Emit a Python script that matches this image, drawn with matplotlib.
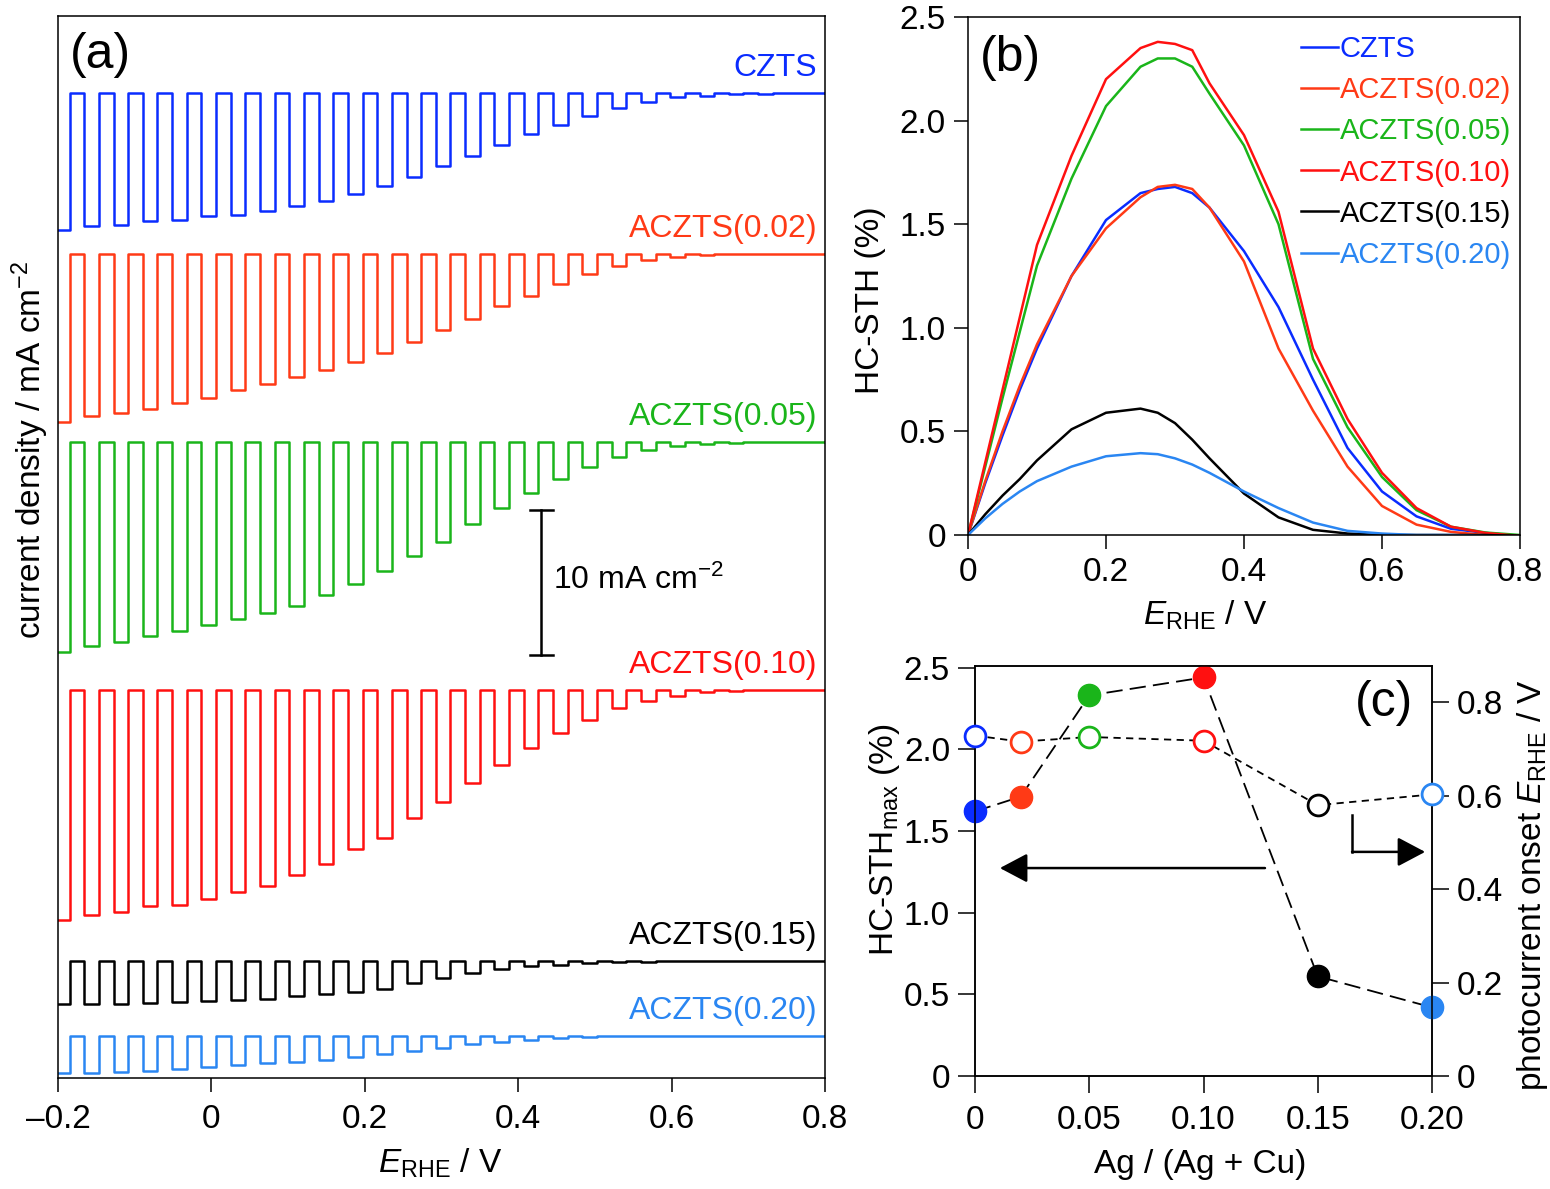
import matplotlib
matplotlib.use("Agg")
import matplotlib.pyplot as plt

plt.rcParams["font.family"] = ["Liberation Sans", "DejaVu Sans"]
plt.rcParams["mathtext.fontset"] = "custom"
plt.rcParams["mathtext.rm"] = "Liberation Sans"
plt.rcParams["mathtext.it"] = "Liberation Sans:italic"
plt.rcParams["font.size"] = 24
plt.rcParams["axes.linewidth"] = 1.1

samples = ["CZTS", "ACZTS(0.02)", "ACZTS(0.05)", "ACZTS(0.10)", "ACZTS(0.15)", "ACZTS(0.20)"]
colors = ["#0a2cff", "#ff3a16", "#1ab51a", "#ff1010", "#000000", "#2a86f2"]

# (a) chopped LSV: photocurrent (mA cm-2) for each light pulse, pulses start at chop_start
chop_start = -0.204
chop_period = 0.0382
trace_offset = [-5.31, -16.41, -29.38, -46.48, -65.17, -70.31]
pulse_czts = [9.43, 9.2, 9.08, 8.85, 8.74, 8.5, 8.4, 8.16, 7.82, 7.47, 7.0, 6.44, 5.79, 5.06,
              4.37, 3.56, 2.85, 2.18, 1.59, 1.03, 0.62, 0.28, 0.18, 0.09, 0.05, 0.02, 0.0]
pulse_002 = [11.56, 11.15, 11.0, 10.7, 10.3, 9.9, 9.4, 9.0, 8.5, 8.0, 7.45, 6.8, 6.05, 5.25,
             4.5, 3.6, 2.87, 2.07, 1.38, 0.83, 0.41, 0.2, 0.1, 0.03, 0.01, 0.0, 0.0]
pulse_005 = [14.5, 14.1, 13.8, 13.4, 13.0, 12.6, 12.2, 11.8, 11.3, 10.55, 9.8, 8.9, 7.86, 6.87,
             5.68, 4.53, 3.49, 2.57, 1.7, 1.01, 0.55, 0.25, 0.11, 0.05, 0.02, 0.0, 0.0]
pulse_010 = [15.86, 15.5, 15.3, 14.9, 14.8, 14.4, 13.95, 13.5, 12.76, 12.0, 11.0, 10.2, 8.85, 7.7,
             6.4, 5.2, 3.98, 2.99, 2.07, 1.22, 0.74, 0.39, 0.16, 0.07, 0.02, 0.0, 0.0]
pulse_015 = [2.99, 2.99, 2.99, 2.9, 2.83, 2.76, 2.67, 2.6, 2.44, 2.25, 2.14, 1.9, 1.55, 1.15,
             0.8, 0.55, 0.38, 0.25, 0.15, 0.08, 0.04, 0.02, 0.0, 0.0, 0.0, 0.0, 0.0]
pulse_020 = [2.6, 2.6, 2.53, 2.46, 2.3, 2.14, 2.0, 1.9, 1.84, 1.72, 1.5, 1.3, 1.05, 0.85,
             0.6, 0.42, 0.28, 0.18, 0.1, 0.05, 0.02, 0.0, 0.0, 0.0, 0.0, 0.0, 0.0]
pulses = [pulse_czts, pulse_002, pulse_005, pulse_010, pulse_015, pulse_020]

# (b) HC-STH vs E_RHE
e_b = [0, 0.025, 0.05, 0.075, 0.1, 0.15, 0.2, 0.25, 0.275, 0.3, 0.325, 0.35, 0.4, 0.45,
       0.5, 0.55, 0.6, 0.65, 0.7, 0.75, 0.8]
sth_czts = [0, 0.25, 0.48, 0.7, 0.9, 1.25, 1.52, 1.65, 1.67, 1.68, 1.65, 1.58, 1.37, 1.1,
            0.75, 0.42, 0.21, 0.09, 0.03, 0.01, -0.005]
sth_002 = [0, 0.26, 0.5, 0.72, 0.92, 1.25, 1.48, 1.63, 1.68, 1.69, 1.67, 1.58, 1.32, 0.9,
           0.6, 0.33, 0.14, 0.05, 0.015, 0.0, -0.01]
sth_005 = [0, 0.33, 0.66, 0.98, 1.3, 1.72, 2.07, 2.26, 2.3, 2.3, 2.26, 2.13, 1.88, 1.5,
           0.85, 0.52, 0.28, 0.12, 0.04, 0.012, 0.0]
sth_010 = [0, 0.35, 0.7, 1.05, 1.4, 1.83, 2.2, 2.35, 2.38, 2.37, 2.34, 2.18, 1.93, 1.56,
           0.9, 0.56, 0.3, 0.13, 0.04, 0.01, -0.005]
sth_015 = [0, 0.1, 0.19, 0.27, 0.36, 0.51, 0.59, 0.61, 0.59, 0.54, 0.46, 0.37, 0.2, 0.085,
           0.025, 0.007, 0.0, 0.0, 0.0, 0.0, -0.005]
sth_020 = [0, 0.08, 0.15, 0.21, 0.26, 0.33, 0.38, 0.395, 0.39, 0.37, 0.34, 0.3, 0.21, 0.13,
           0.06, 0.02, 0.007, 0.0, 0.0, -0.005, -0.01]
sth_curves = [sth_czts, sth_002, sth_005, sth_010, sth_015, sth_020]

# (c) summary vs Ag content
ag_ratio = [0, 0.02, 0.05, 0.10, 0.15, 0.20]
sth_max = [1.62, 1.71, 2.33, 2.44, 0.61, 0.42]
onset = [0.729, 0.716, 0.726, 0.718, 0.58, 0.603]

W, H = 1550, 1189
fig = plt.figure(figsize=(W / 100, H / 100), dpi=100)


def box(l, t, r, b):
    return [l / W, 1 - b / H, (r - l) / W, (b - t) / H]


# ---------- (a)
ax_a = fig.add_axes(box(58, 16, 825, 1078))
for name, col, amps, base in zip(samples, colors, pulses, trace_offset):
    e, j = [], []
    for k, a in enumerate(amps):
        on = chop_start + k * chop_period
        e += [on, on + chop_period / 2]
        j += [base - a, base]
    e.append(0.8)
    j.append(base)
    ax_a.plot(e, j, color=col, lw=1.8, drawstyle="steps-post")
    ax_a.text(0.79, base + 1.7, name, color=col, ha="right", va="center", fontsize=23)
ax_a.set_xlim(-0.2, 0.8)
ax_a.set_ylim(-73.24, 0)
ax_a.set_yticks([])
ax_a.set_xticks([-0.2, 0, 0.2, 0.4, 0.6, 0.8])
ax_a.set_xticklabels(["\u20130.2", "0", "0.2", "0.4", "0.6", "0.8"])
ax_a.tick_params(direction="out", length=10, width=1.1, pad=9)
ax_a.plot([0.43, 0.43], [-34.07, -44.07], color="k", lw=1.8)
ax_a.plot([0.415, 0.445], [-34.07, -34.07], color="k", lw=1.8)
ax_a.plot([0.415, 0.445], [-44.07, -44.07], color="k", lw=1.8)
ax_a.text(0.4454, -38.9, "10 mA cm$^{-2}$", ha="left", va="center", fontsize=23)
ax_a.text(0.055, 0.963, "(a)", transform=ax_a.transAxes, ha="center", va="center", fontsize=36)
fig.text(30 / W, 1 - 450 / H, "current density / mA cm$^{-2}$", rotation=90,
         ha="center", va="center")
fig.text(440 / W, 1 - 1163 / H, "$\\mathit{E}_{\\mathrm{RHE}}$ / V", ha="center", va="center")

# ---------- (b)
ax_b = fig.add_axes(box(968, 17, 1520, 535))
for name, col, ys in zip(samples, colors, sth_curves):
    ax_b.plot(e_b, ys, color=col, lw=1.8, label=name)
ax_b.set_xlim(0, 0.8)
ax_b.set_ylim(0, 2.5)
ax_b.set_xticks([0, 0.2, 0.4, 0.6, 0.8])
ax_b.set_xticklabels(["0", "0.2", "0.4", "0.6", "0.8"])
ax_b.set_yticks([0, 0.5, 1.0, 1.5, 2.0, 2.5])
ax_b.set_yticklabels(["0", "0.5", "1.0", "1.5", "2.0", "2.5"])
ax_b.tick_params(direction="out", length=10, width=1.1, pad=6)
leg = ax_b.legend(loc="upper right", bbox_to_anchor=(0.984, 0.965), frameon=False, fontsize=21,
                  handlelength=1.3, handletextpad=0.05, labelspacing=0.45,
                  borderaxespad=0, borderpad=0)
for txt, col in zip(leg.get_texts(), colors):
    txt.set_color(col)
ax_b.text(0.076, 0.921, "(b)", transform=ax_b.transAxes, ha="center", va="center", fontsize=36)
fig.text(870 / W, 1 - 300 / H, "HC-STH (%)", rotation=90, ha="center", va="center")
fig.text(1205 / W, 1 - 615 / H, "$\\mathit{E}_{\\mathrm{RHE}}$ / V", ha="center", va="center")

# ---------- (c)
ax_c = fig.add_axes(box(975, 666, 1432, 1076))
ax_r = ax_c.twinx()
ax_c.plot(ag_ratio, sth_max, color="k", lw=1.3, dashes=(9, 4), zorder=1)
ax_r.plot(ag_ratio, onset, color="k", lw=1.3, dashes=(4, 3), zorder=1)
for x, y, col in zip(ag_ratio, sth_max, colors):
    ax_c.plot(x, y, "o", ms=16, color=col, clip_on=False, zorder=3)
for x, y, col in zip(ag_ratio, onset, colors):
    ax_r.plot(x, y, "o", ms=15, mfc="white", mec=col, mew=2, clip_on=False, zorder=3)
ax_c.set_xlim(0, 0.2)
ax_c.set_ylim(0, 2.51)
ax_r.set_ylim(0, 0.878)
ax_c.set_xticks([0, 0.05, 0.10, 0.15, 0.20])
ax_c.set_xticklabels(["0", "0.05", "0.10", "0.15", "0.20"])
ax_c.set_yticks([0, 0.5, 1.0, 1.5, 2.0, 2.5])
ax_c.set_yticklabels(["0", "0.5", "1.0", "1.5", "2.0", "2.5"])
ax_r.set_yticks([0, 0.2, 0.4, 0.6, 0.8])
ax_r.set_yticklabels(["0", "0.2", "0.4", "0.6", "0.8"])
ax_c.tick_params(direction="out", length=12, width=1.1, pad=6)
ax_c.tick_params(axis="x", pad=9)
ax_r.tick_params(direction="out", length=12, width=1.1, pad=6)
head = "-|>,head_length=0.85,head_width=0.45"
ax_c.annotate("", xy=(0.0109, 1.273), xytext=(0.1269, 1.273),
              arrowprops=dict(arrowstyle=head, color="k", lw=1.8, mutation_scale=20,
                              shrinkA=0, shrinkB=0))
ax_c.plot([0.165, 0.165], [1.598, 1.372], color="k", lw=1.8)
ax_c.annotate("", xy=(0.197, 1.372), xytext=(0.165, 1.372),
              arrowprops=dict(arrowstyle=head, color="k", lw=1.8, mutation_scale=20,
                              shrinkA=0, shrinkB=0))
ax_c.text(0.896, 0.91, "(c)", transform=ax_c.transAxes, ha="center", va="center", fontsize=36)
fig.text(885 / W, 1 - 840 / H, "HC-STH$_{\\mathrm{max}}$ (%)", rotation=90, ha="center", va="center")
fig.text(1532 / W, 1 - 885 / H, "photocurrent onset $\\mathit{E}_{\\mathrm{RHE}}$ / V",
         rotation=90, ha="center", va="center")
fig.text(1200 / W, 1 - 1165 / H, "Ag / (Ag + Cu)", ha="center", va="center")

fig.savefig("out.png", dpi=100)
